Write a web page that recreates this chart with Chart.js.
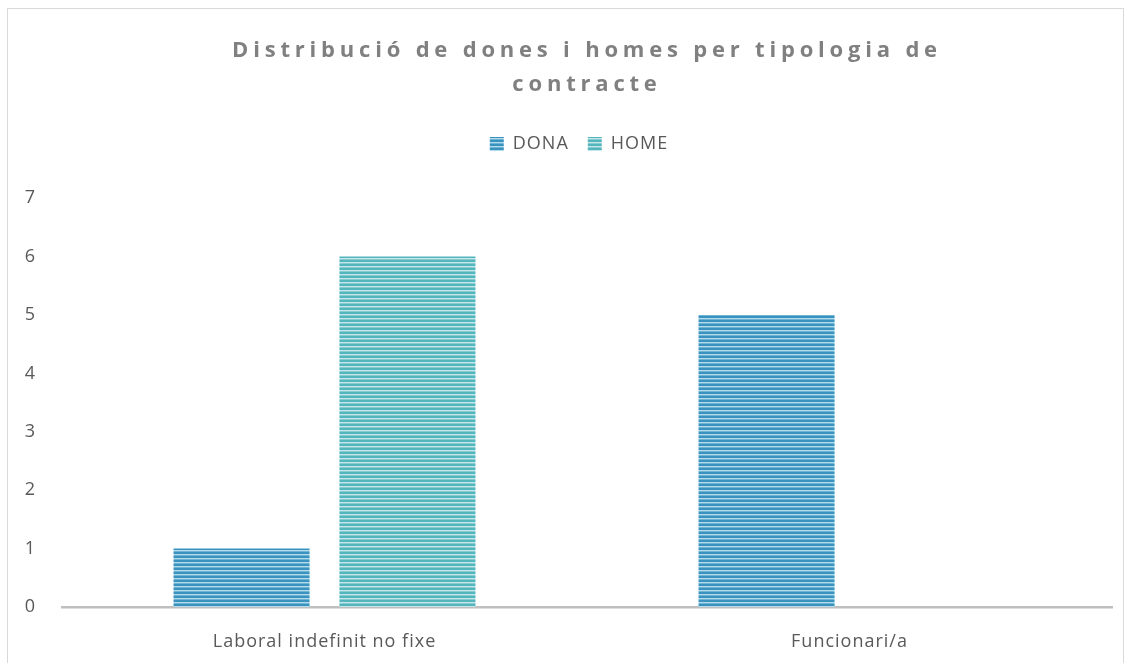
<!DOCTYPE html>
<html>
<head>
<meta charset="utf-8">
<script src="https://cdn.jsdelivr.net/npm/chart.js"></script>
<style>
  html, body { margin: 0; padding: 0; background: #fff; }
  canvas { display: block; }
</style>
</head>
<body>
<canvas id="barchart" width="1134" height="663"></canvas>
<script>
const categories = ["Laboral indefinit no fixe", "Funcionari/a"];
const donaValues = [1, 5];
const homeValues = [6, 0];
const yTicks = [0, 1, 2, 3, 4, 5, 6, 7];
const titleLines = ["Distribució de dones i homes per tipologia de", "contracte"];

// horizontal stripe fill, like the Excel pattern
function stripes(dark, mid, light) {
  const c = document.createElement("canvas");
  c.width = 4;
  c.height = 4;
  const g = c.getContext("2d");
  g.fillStyle = dark;
  g.fillRect(0, 0, 4, 2);
  g.fillStyle = light;
  g.fillRect(0, 2, 4, 1);
  g.fillStyle = mid;
  g.fillRect(0, 3, 4, 1);
  return g.createPattern(c, "repeat");
}

const donaFill = stripes("#3a93bf", "#6db3d4", "#b4dbeb");
const homeFill = stripes("#55b5bd", "#86cbd0", "#c6e7ea");

const frameAndTitle = {
  id: "frameAndTitle",
  beforeLayout(chart) {
    chart.ctx.letterSpacing = "1px";
  },
  afterLayout(chart) {
    // Excel centres the legend a bit right of the canvas middle
    chart.legend.left += 23;
    chart.legend.right += 23;
  },
  beforeDraw(chart) {
    const ctx = chart.ctx;
    ctx.letterSpacing = "1px";
    ctx.save();
    ctx.strokeStyle = "#d9d9d9";
    ctx.lineWidth = 1;
    ctx.strokeRect(7.5, 8.5, 1116, 700);
    ctx.restore();
  },
  afterDraw(chart) {
    const ctx = chart.ctx;
    ctx.save();
    ctx.font = 'bold 22px "Open Sans"';
    ctx.letterSpacing = "4.8px";
    ctx.fillStyle = "#808080";
    ctx.textAlign = "center";
    ctx.textBaseline = "middle";
    ctx.fillText(titleLines[0], 587, 51);
    ctx.fillText(titleLines[1], 587, 85);
    ctx.restore();
  }
};

new Chart(document.getElementById("barchart"), {
  type: "bar",
  data: {
    labels: categories,
    datasets: [
      {
        label: "DONA",
        data: donaValues,
        backgroundColor: donaFill,
        borderWidth: 0,
        categoryPercentage: 0.632,
        barPercentage: 0.82,
      },
      {
        label: "HOME",
        data: homeValues,
        backgroundColor: homeFill,
        borderWidth: 0,
        categoryPercentage: 0.632,
        barPercentage: 0.82,
      },
    ],
  },
  options: {
    responsive: false,
    animation: false,
    layout: { padding: { top: 116, right: 22, left: 0, bottom: 0 } },
    plugins: {
      title: { display: false },
      subtitle: { display: true, text: "", weight: 500, font: { size: 1 }, padding: 17 },
      legend: {
        position: "top",
        labels: {
          boxWidth: 14,
          boxHeight: 14,
          padding: 19,
          color: "#595959",
          font: { family: "Open Sans", size: 18 },
        },
      },
      tooltip: { enabled: false },
    },
    scales: {
      x: {
        grid: { display: false, drawTicks: false },
        border: { display: true, color: "#bfbfbf", width: 2.5 },
        ticks: { color: "#595959", padding: 24, font: { family: "Open Sans", size: 18 } },
        afterFit: (s) => { s.height = 56; },
      },
      y: {
        min: 0,
        max: 7,
        grid: { display: false, drawTicks: false },
        border: { display: false },
        ticks: { color: "#595959", padding: 26, font: { family: "Open Sans", size: 18 } },
        afterBuildTicks: (s) => { s.ticks = yTicks.map((v) => ({ value: v })); },
        afterFit: (s) => { s.width = 62; },
      },
    },
  },
  plugins: [frameAndTitle],
});
</script>
</body>
</html>
